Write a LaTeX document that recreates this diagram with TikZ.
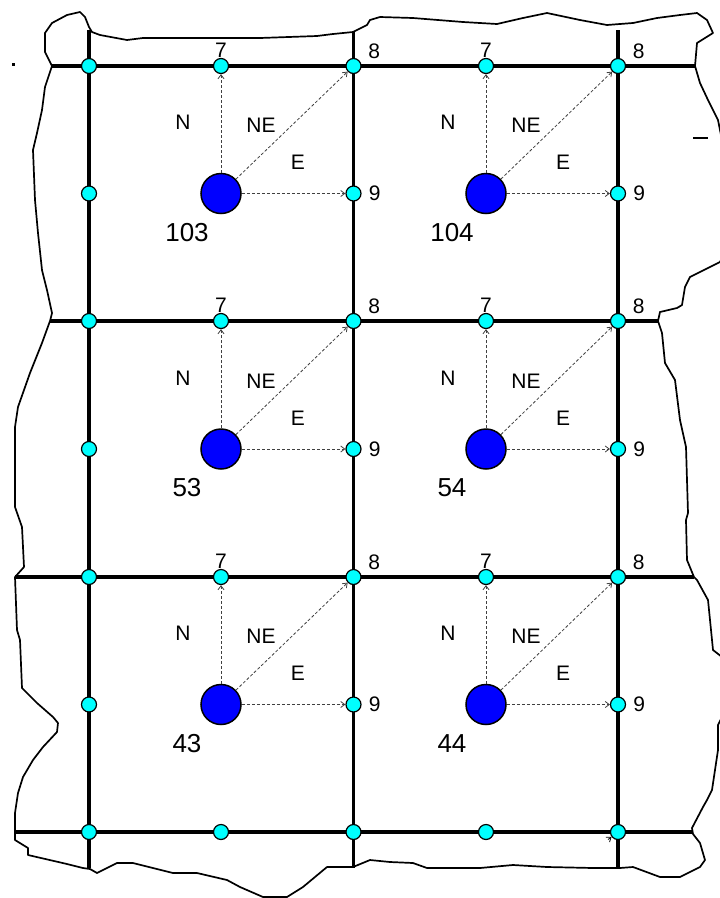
\documentclass[tikz,border=0pt]{standalone}
\usepackage{fontspec}
\setmainfont{Liberation Sans}
\usetikzlibrary{arrows.meta,positioning,calc}
\definecolor{ptcyan}{RGB}{0,255,255}
\definecolor{cellblue}{RGB}{0,0,255}

\begin{document}
\begin{tikzpicture}[x=1pt,y=-1pt,>={Straight Barb[length=4pt,width=6pt]},
 grid/.style={line width=3.4pt},
 rim/.style={line width=1.7pt,line join=round},
 pt/.style={circle,draw,fill=ptcyan,line width=1.2pt,inner sep=0pt,minimum size=15pt},
 cell/.style={circle,draw,fill=cellblue,line width=1.5pt,inner sep=0pt,minimum size=40pt},
 dir/.style={->,densely dashed,line width=0.8pt,black!75},
 lab/.style={inner sep=0pt,font=\fontsize{21}{21}\selectfont},
 num/.style={inner sep=0pt,font=\fontsize{26}{26}\selectfont}]
 \useasboundingbox (0,0) rectangle (720,898);
 % torn outline of the area
 \draw[rim] (52,66) -- (45,52) -- (45,33) -- (52,23) -- (67,15) -- (80,12) -- (85,17) -- (89,27) -- (92,32) -- (100,35) -- (127,40) -- (143,38) -- (200,38) -- (260,38) -- (317,36) -- (333,34) -- (353,32) -- (367,25) -- (370,20) -- (380,17) -- (413,18) -- (463,22) -- (497,24) -- (523,18) -- (547,13) -- (580,20) -- (607,25) -- (633,23) -- (657,18) -- (680,15) -- (697,13) -- (707,20) -- (713,33) -- (697,43) -- (695,66) -- (700,83) -- (708,100) -- (718,120) -- (722,140) -- (722,258) -- (720,262) -- (690,277) -- (685,287) -- (682,305) -- (677,308) -- (660,312) -- (658,321) -- (662,333) -- (665,363) -- (675,380) -- (680,420) -- (686,447) -- (688,513) -- (686,520) -- (687,560) -- (694,577) -- (697,580) -- (708,600) -- (713,650) -- (722,657) -- (722,717) -- (718,725) -- (718,750) -- (715,770) -- (712,790) -- (707,800) -- (703,807) -- (692,828) -- (693,834) -- (700,843) -- (705,860) -- (700,867) -- (680,877) -- (660,877) -- (633,867) -- (620,868) -- (593,868) -- (547,867) -- (513,865) -- (480,868) -- (427,868) -- (413,863) -- (390,862) -- (370,860) -- (353,867) -- (327,867) -- (303,887) -- (287,897) -- (263,897) -- (240,887) -- (227,880) -- (197,873) -- (173,873) -- (133,863) -- (117,863) -- (97,873) -- (90,869) -- (83,868) -- (67,864) -- (28,855) -- (28,848) -- (15,840) -- (15,813) -- (18,793) -- (23,777) -- (33,760) -- (43,747) -- (57,732) -- (58,723) -- (53,717) -- (37,703) -- (22,688) -- (20,640) -- (17,630) -- (15,577) -- (24,567) -- (22,527) -- (15,507) -- (15,427) -- (18,407) -- (30,373) -- (42,343) -- (50,321) -- (52,313) -- (47,290) -- (42,270) -- (38,233) -- (35,200) -- (33,150) -- (37,133) -- (42,110) -- (45,87) -- cycle;
 \draw[rim] (693,138) -- (708,138);
 \fill (12,63) rectangle (14.5,66);
 % grid
 \draw[grid] (52,66) -- (695,66) (50,321) -- (658,321) (15,577) -- (694,577) (15,832) -- (693,832)
   (89,30) -- (89,868) (353.5,32) -- (353.5,868) (618,30) -- (618,868);
 % grid points
 \foreach \r/\y in {0/66,2/321,4/577,6/832}
  \foreach \c/\x in {0/89,1/221,2/353.5,3/486,4/618}
   \node[pt] (p\c\r) at (\x,\y) {};
 \foreach \r/\y in {1/193.5,3/449,5/704.5}
  \foreach \c/\x in {0/89,2/353.5,4/618}
   \node[pt] (p\c\r) at (\x,\y) {};
 % cells with their three directions
 \foreach \n/\c/\r in {103/1/1,104/3/1,53/1/3,54/3/3,43/1/5,44/3/5}{
  \pgfmathtruncatemacro\u{\r-1}
  \pgfmathtruncatemacro\v{\c+1}
  \node[cell] (b\n) at (p\c\u |- p0\r) {};
  \draw[dir] (b\n) -- (p\c\u);
  \draw[dir] (b\n) -- (p\v\u);
  \draw[dir] (b\n) -- (p\v\r);
  \node[lab,above=0pt of p\c\u] {7};
  \node[lab,above right=1pt and 9pt of p\v\u] {8};
  \node[lab,right=7pt of p\v\r] {9};
  \node[lab] at ($(b\n)+(-38,-71)$) {N};
  \node[lab] at ($(b\n)+(40,-68)$) {NE};
  \node[lab] at ($(b\n)+(77,-31)$) {E};
  \node[num] at ($(b\n)+(-34,39)$) {\n};
 }
 \coordinate (stray) at ($(p46)+(-10,7.5)$);
 \draw[->,line width=0.8pt] (stray) -- (p46);
\end{tikzpicture}
\end{document}
